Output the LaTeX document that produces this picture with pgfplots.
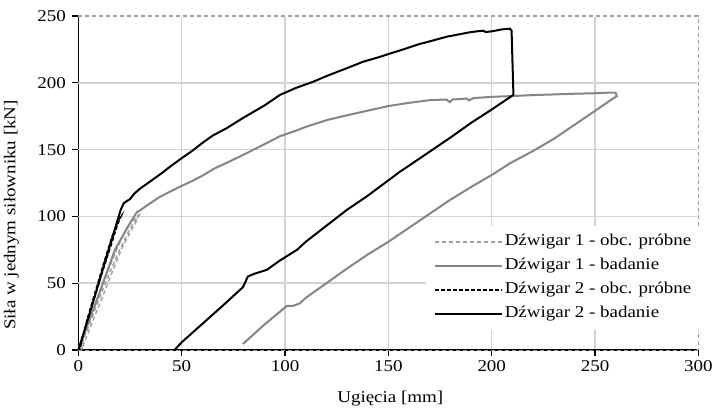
\documentclass[border=0pt]{standalone}
\usepackage{fontspec}
\setmainfont{Liberation Serif}[FakeStretch=1.15]
\usepackage{pgfplots}
\pgfplotsset{compat=1.18}
\definecolor{gone}{RGB}{127,135,135}
\definecolor{gdash}{RGB}{160,160,160}
\definecolor{gridc}{RGB}{210,210,210}
\begin{document}
\begin{tikzpicture}[font=\fontsize{16.5bp}{19bp}\selectfont]
\begin{axis}[
  scale only axis, width=620bp, height=334bp,
  xmin=0, xmax=300, ymin=0, ymax=250,
  xtick={0,50,...,300}, ytick={0,50,...,250},
  axis x line*=bottom, axis y line*=left,
  x axis line style={black, line width=1.2bp},
  y axis line style={black, line width=1.6bp},
  tick align=outside, major tick length=6bp,
  major tick style={black, line width=1.4bp},
  xmajorgrids=true,
  major grid style={draw=gridc, line width=1.3bp},
  clip=false,
  /pgf/number format/assume math mode=true,
  yticklabel style={xshift=-3bp},
  xticklabel style={yshift=-1bp},
  xlabel={Ugięcia [mm]}, ylabel={Siła w jednym siłowniku [kN]},
  xlabel style={at={(axis description cs:0.503,-0.146)}, anchor=center},
  ylabel style={at={(axis description cs:-0.108,0.404)}, anchor=center, rotate=0},
  legend cell align=left,
  legend image code/.code={\draw[#1] (0bp,0bp) -- (67bp,0bp);},
  legend style={at={(axis description cs:0.56,0.372)}, anchor=north west,
    draw=none, fill=white, inner xsep=8bp, inner ysep=6bp, row sep=4bp,
    nodes={inner sep=2bp, text height=12bp, text depth=4bp}},
]
\pgfplotsinvokeforeach{50,100,150,200}{
  \draw[gridc, line width=1.7bp] (axis cs:0,#1) -- (axis cs:300,#1);
}
% Dzwigar 1 - obc. probne
\addplot[gdash, line width=1.4bp, dash pattern=on 4bp off 3bp] coordinates {
(0,0)(4,14)(8,30)(12,46)(16,61)(20,75)(24,88)(27,96)(29.5,101)(28,100)(24,93)(19,77)(14,58)(9,38)(5,20)(2.5,8)(1.5,0)
(1.5,0)(6,18)(11,37)(16,57)(21,76)(25,88)(28,96)(29.8,103.5)};
\addlegendentry{Dźwigar 1 - obc. próbne}
% Dzwigar 1 - badanie
\addplot[gone, line width=2bp] coordinates {
(0,0)(5,21)(10,42)(17.7,75)(22,87)(25,95)(28.2,103)(29.8,104.5)(33,108)(39.5,114.7)(45,119)(49.2,122.3)(55,126.5)(60,130.5)(66,136)(73,141)(81,147)(90,154)(97.5,160)(105,164)(110,167)(120,172)(128,175)(137.8,178.4)(150,182.6)(160,185)(170,187)(178,187.5)(179.8,185.5)(181,187.5)(188,188.2)(189,186.8)(191,188.5)(200,189.5)(208.8,190)(220,190.8)(230,191.3)(240,191.8)(250,192.2)(258,192.7)(260,192.5)(260.5,190)
(258,187.5)(250,179)(240,168.5)(230,158)(220,149)(208.8,139.7)(200,131)(190,122)(179.8,112.3)(170,102)(160,91.5)(150,81)(140,71.5)(130,61)(120,50)(110,39)(107.2,35)(103.8,33)(100.9,33)(90,19)(79.6,4.5)};
\addlegendentry{Dźwigar 1 - badanie}
% Dzwigar 2 - obc. probne
\addplot[black, line width=1.3bp, dash pattern=on 4bp off 2bp] coordinates {
(0,0)(4,20)(8,40)(12,60)(16,79)(19,94)(21,101)(20,99)(16,84)(12,64)(8,43)(4,22)(1.5,6)(1,0)};
\addlegendentry{Dźwigar 2 - obc. próbne}
% Dzwigar 2 - badanie
\addplot[black, line width=2bp] coordinates {
(0,0)(5,25)(10,51)(15,77)(17,87)(19.5,100)(20.5,105)(22,110)(25,113)(27,117)(30,121)(34.6,126)(40,132)(45,138)(49.2,142.7)(55,149)(60,155)(65,160.5)(71.7,166)(80,174)(90,183)(97.5,190.9)(105,196)(113.6,200.8)(120,205)(130,211)(137.8,215.8)(145,219)(150,221.5)(158.8,225.8)(165,229)(170,231)(178.2,234.5)(185,236.5)(190,238)(195.9,239)(197,238)(200,238.5)(205,240)(208.8,240.5)(209.6,239)(210.5,191)
(200,180)(190,170)(180,159)(170,148.5)(160,138)(155.6,133.5)(150,127)(140,115.5)(137,112.3)(130,105)(120,93)(110,81)(105.8,75)(97.5,67)(91.2,60)(85,57)(82,55)(79.6,47)(70,33.4)(60,19.6)(50,5.8)(46.5,0)};
\addlegendentry{Dźwigar 2 - badanie}
\draw[white, line width=2bp] (rel axis cs:0,1) -- (rel axis cs:1,1) -- (rel axis cs:1,0);
\draw[gdash, line width=1.2bp, dash pattern=on 4bp off 3bp] (rel axis cs:0,1) -- (rel axis cs:1,1) -- (rel axis cs:1,0);
\draw[gdash, line width=0.8bp, dash pattern=on 4bp off 3bp] (rel axis cs:0,0) -- (rel axis cs:1,0);
\end{axis}
\pgfresetboundingbox
\path[use as bounding box] (-78.4bp,-62bp) rectangle (634.6bp,350bp);
\end{tikzpicture}
\end{document}
